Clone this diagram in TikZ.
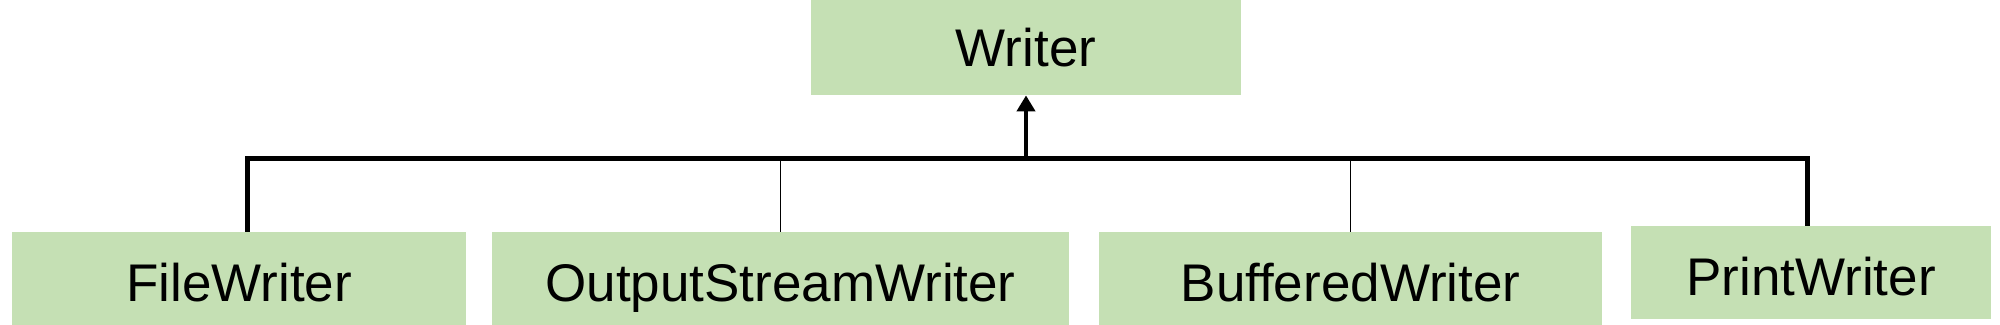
\documentclass[tikz,border=0pt]{standalone}
\usepackage{fontspec}
\setmainfont{Liberation Sans}
\usetikzlibrary{arrows.meta}
\definecolor{boxgreen}{RGB}{197,224,180}
\begin{document}
\begin{tikzpicture}[x=0.5pt,y=0.5pt,
  classbox/.style={fill=boxgreen,draw=none,inner sep=0pt,minimum height=46.5pt,
    font=\fontsize{26.5}{30}\selectfont,text height=19pt,text depth=0pt,align=center},
  childbox/.style={classbox,text height=23pt},
  busline/.style={line width=2.5pt,line join=miter},
  thinline/.style={line width=0.75pt},
  stemline/.style={line width=2pt,-{Triangle[length=8pt,width=9pt]}}]
\useasboundingbox (0,0) rectangle (2000,325);
\node[classbox,minimum width=215pt,minimum height=47.5pt] (w) at (1026,277.5) {Writer};
\node[childbox,minimum width=227pt] (fw) at (239,46.5) {FileWriter};
\node[childbox,minimum width=288.5pt] (osw) at (780.5,46.5) {OutputStreamWriter};
\node[childbox,minimum width=251.5pt] (bw) at (1350.5,46.5) {BufferedWriter};
\node[childbox,minimum width=180pt] (pw) at (1811,52.5) {PrintWriter};
\coordinate (bus) at (1026,166);
\draw[busline] ([xshift=4pt]fw.north) |- (bus) -| ([xshift=-2pt]pw.north);
\draw[thinline] (osw.north) -- (osw.north |- bus);
\draw[thinline] (bw.north) -- (bw.north |- bus);
\draw[stemline] (bus) -- (w.south);
\end{tikzpicture}
\end{document}
